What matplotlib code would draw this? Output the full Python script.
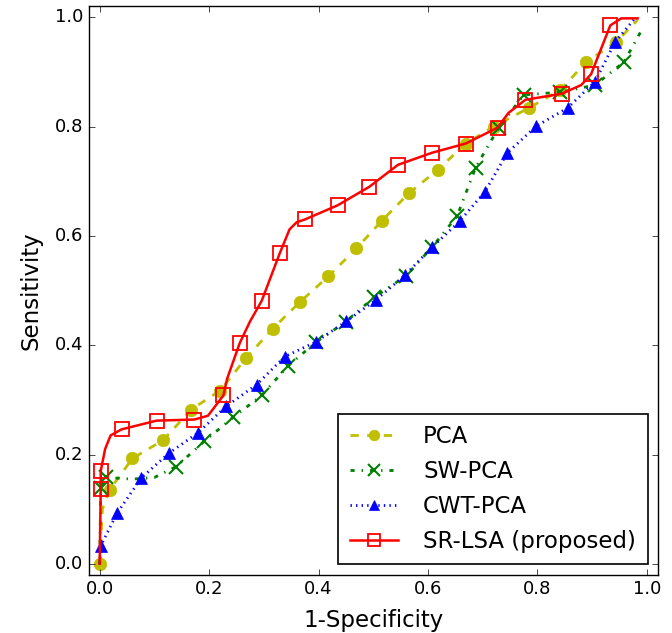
import matplotlib
matplotlib.use("Agg")
import matplotlib.pyplot as plt

# values (curve points + marker points)
pca_x = [0.0, 0.005, 0.018, 0.06, 0.116, 0.167, 0.22, 0.268, 0.316, 0.366, 0.418,
         0.469, 0.516, 0.565, 0.618, 0.669, 0.72, 0.784, 0.842, 0.889, 0.944, 0.983]
pca_y = [0.0, 0.10, 0.135, 0.193, 0.226, 0.282, 0.317, 0.377, 0.43, 0.479, 0.526,
         0.577, 0.628, 0.678, 0.721, 0.769, 0.80, 0.834, 0.867, 0.918, 0.955, 0.995]
pca_marks = [0, 2, 3, 4, 5, 6, 7, 8, 9, 10, 11, 12, 13, 14, 15, 16, 17, 18, 19, 20]

sw_x = [0.0, 0.002, 0.011, 0.06, 0.10, 0.14, 0.191, 0.244, 0.296, 0.344, 0.396,
        0.45, 0.502, 0.56, 0.607, 0.653, 0.687, 0.729, 0.775, 0.842, 0.905, 0.958, 0.99]
sw_y = [0.0, 0.138, 0.158, 0.155, 0.158, 0.178, 0.224, 0.268, 0.308, 0.362, 0.406,
        0.443, 0.488, 0.527, 0.579, 0.636, 0.725, 0.798, 0.858, 0.863, 0.876, 0.918, 0.976]
sw_marks = [1, 2, 5, 6, 7, 8, 9, 10, 11, 12, 13, 14, 15, 16, 17, 18, 19, 20, 21]

cwt_x = [0.0, 0.002, 0.032, 0.076, 0.126, 0.18, 0.231, 0.287, 0.338, 0.395, 0.451,
         0.505, 0.558, 0.607, 0.658, 0.704, 0.745, 0.798, 0.855, 0.905, 0.942, 0.978]
cwt_y = [0.0, 0.033, 0.093, 0.157, 0.202, 0.24, 0.288, 0.328, 0.379, 0.406, 0.444,
         0.483, 0.528, 0.579, 0.627, 0.681, 0.752, 0.801, 0.834, 0.882, 0.955, 0.998]
cwt_marks = list(range(1, 21))

sr_x = [0.0, 0.002, 0.002, 0.01, 0.02, 0.04, 0.104, 0.173, 0.198, 0.226, 0.233,
        0.244, 0.256, 0.275, 0.296, 0.329, 0.347, 0.36, 0.375, 0.435, 0.493, 0.545,
        0.607, 0.669, 0.727, 0.747, 0.778, 0.844, 0.88, 0.898, 0.933, 0.953, 0.983]
sr_y = [0.0, 0.137, 0.17, 0.21, 0.235, 0.246, 0.262, 0.264, 0.271, 0.308, 0.339,
        0.37, 0.404, 0.444, 0.481, 0.568, 0.612, 0.625, 0.63, 0.656, 0.69, 0.73,
        0.752, 0.769, 0.798, 0.825, 0.849, 0.86, 0.876, 0.896, 0.985, 0.998, 0.998]
sr_marks = [1, 2, 5, 6, 7, 9, 12, 14, 15, 18, 19, 20, 21, 22, 23, 24, 26, 27, 29, 30]

plt.style.use("classic")
plt.rcParams["font.family"] = ["DejaVu Sans"]

fig = plt.figure(figsize=(6.72, 6.33), dpi=100, facecolor="white")
ax = fig.add_axes([0.132, 0.092, 0.847, 0.898])

ax.plot(pca_x, pca_y, "y--", lw=2, marker="o", ms=9, mec="y",
        markevery=pca_marks, label="PCA")
ax.plot(sw_x, sw_y, "g-.", lw=2, marker="x", ms=10, mew=1.5,
        markevery=sw_marks, label="SW-PCA")
ax.plot(cwt_x, cwt_y, "b:", lw=2, marker="^", ms=9, mec="b",
        markevery=cwt_marks, label="CWT-PCA")
ax.plot(sr_x, sr_y, "r-", lw=1.8, marker="s", ms=10, mfc="none", mec="r", mew=1.3,
        markevery=sr_marks, label="SR-LSA (proposed)")

ax.set_xlim(-0.02, 1.02)
ax.set_ylim(-0.02, 1.02)
ax.set_xticks([0.0, 0.2, 0.4, 0.6, 0.8, 1.0])
ax.set_yticks([0.0, 0.2, 0.4, 0.6, 0.8, 1.0])
ax.tick_params(labelsize=13)
ax.set_xlabel("1-Specificity", fontsize=16.5, labelpad=8)
ax.set_ylabel("Sensitivity", fontsize=16.5, labelpad=9)

leg = ax.legend(loc="lower right", fontsize=16.5, numpoints=1, borderaxespad=0.45,
                handlelength=2.1, labelspacing=0.52, borderpad=0.5, handletextpad=1.1,
                markerscale=0.85)
leg.get_frame().set_linewidth(1.2)

fig.savefig("out.png", dpi=100, facecolor="white")
